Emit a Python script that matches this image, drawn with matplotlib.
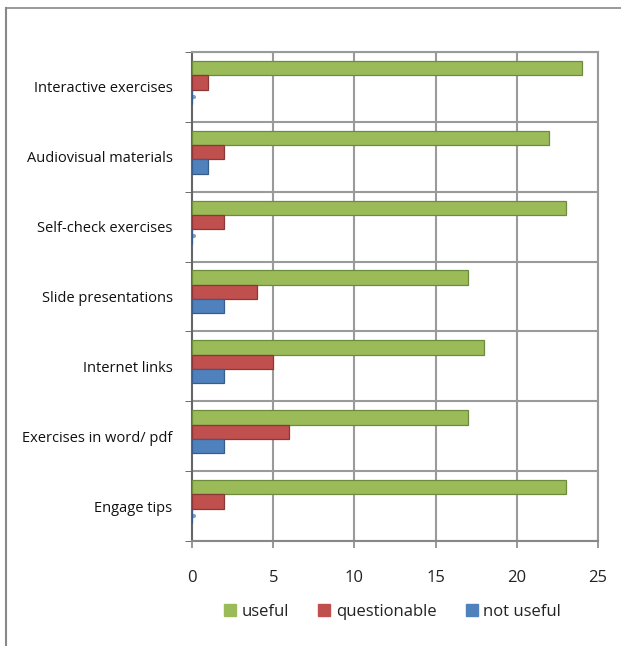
import matplotlib
matplotlib.use("Agg")
import matplotlib.pyplot as plt
from matplotlib.lines import Line2D
import numpy as np

categories = ["Interactive exercises", "Audiovisual materials", "Self-check exercises",
              "Slide presentations", "Internet links", "Exercises in word/ pdf", "Engage tips"]
useful = [24, 22, 23, 17, 18, 17, 23]
questionable = [1, 2, 2, 4, 5, 6, 2]
not_useful = [0, 1, 0, 2, 2, 2, 0]
series_names = ["useful", "questionable", "not useful"]
x_ticks = [0, 5, 10, 15, 20, 25]

colors = ["#9BBB59", "#C0504D", "#4F81BD"]
edges = ["#6E8B3D", "#8C3836", "#385D8A"]

plt.rcParams['font.family'] = ['Open Sans', 'DejaVu Sans']

fig = plt.figure(figsize=(6.21, 6.46), dpi=100)
ax = fig.add_axes([192/621, 1-541/646, (598-192)/621, (541-52)/646])

n = len(categories)
y = np.arange(n)
offsets = [-0.27, -0.065, 0.14]
h = 0.205
for vals, off, c, e, name in zip([useful, questionable, not_useful], offsets, colors, edges, series_names):
    ax.barh(y + off, vals, height=h, color=c, edgecolor=e, linewidth=0.9, label=name, zorder=3)
    for yi, v in zip(y, vals):
        if v == 0:
            ax.plot([0.03, 0.1], [yi + off, yi + off], color=e, lw=3, alpha=0.6, zorder=3,
                    solid_capstyle='round')

ax.set_ylim(n - 0.5, -0.5)
ax.set_xlim(0, 25)
ax.set_xticks(x_ticks)
ax.set_xticklabels([str(t) for t in x_ticks], fontsize=12, color="#222222")
ax.tick_params(axis='x', length=5, pad=16, color="#888888", width=1.2)
ax.set_yticks(y)
ax.set_yticklabels(categories, fontsize=10.5, color="#111111", fontweight='medium')
ax.tick_params(axis='y', length=0, pad=14)
ax.set_yticks(np.arange(-0.5, n, 1.0), minor=True)
ax.tick_params(axis='y', which='minor', length=5, color="#555555")

for xv in x_ticks[1:]:
    ax.axvline(xv, color="#9a9a9a", lw=1.5, zorder=1)
for yb in np.arange(-0.5, n, 1.0):
    ax.axhline(yb, color="#9a9a9a", lw=1.5, zorder=1)

for s in ["top", "right"]:
    ax.spines[s].set_color("#9a9a9a")
    ax.spines[s].set_linewidth(1.5)
ax.spines["left"].set_color("#666666")
ax.spines["left"].set_linewidth(1.5)
ax.spines["bottom"].set_color("#888888")
ax.spines["bottom"].set_linewidth(1.5)

handles = [Line2D([0], [0], marker='s', color='w', markerfacecolor=c, markeredgecolor=c,
                  markersize=9, linestyle='None') for c in colors]
fig.legend(handles, series_names, loc='center', bbox_to_anchor=(390/621, 1-612/646),
           ncol=3, frameon=False, fontsize=12, handletextpad=0.0, columnspacing=1.4,
           handlelength=1.4, labelcolor="#222222")

fig.add_artist(Line2D([6/621, 1], [1-8/646, 1-8/646], transform=fig.transFigure, color="#888888", lw=1.2))
fig.add_artist(Line2D([6/621, 6/621], [0, 1-8/646], transform=fig.transFigure, color="#888888", lw=1.5))

fig.savefig("out.png", dpi=100)
